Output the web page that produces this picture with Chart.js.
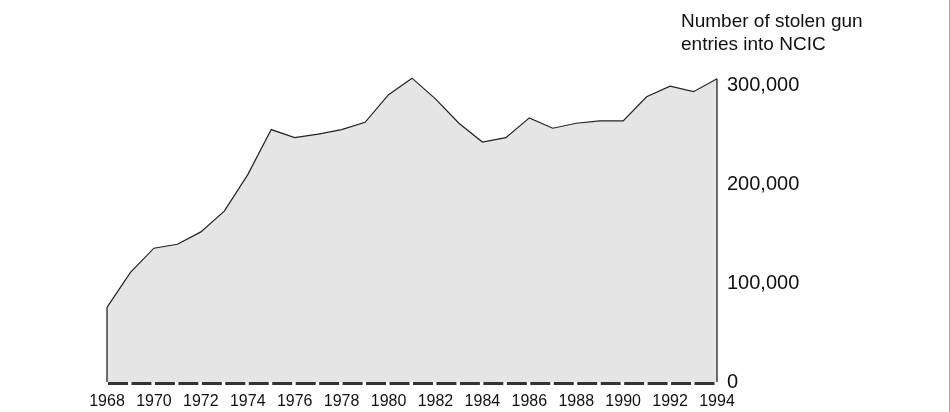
<!DOCTYPE html>
<html>
<head>
<meta charset="utf-8">
<script src="https://cdn.jsdelivr.net/npm/chart.js@4/dist/chart.umd.min.js"></script>
<style>
  html, body { margin: 0; padding: 0; background: #fff; }
  #wrap { width: 949px; height: 412px; border-right: 1px solid #a8a8a8; }
  canvas { display: block; }
</style>
</head>
<body>
<div id="wrap"><canvas id="c" width="949" height="412"></canvas></div>
<script>
// Stolen gun entries into NCIC, 1968-1994
const YEARS = ["1968", "1969", "1970", "1971", "1972", "1973", "1974", "1975", "1976", "1977", "1978", "1979", "1980", "1981",
  "1982", "1983", "1984", "1985", "1986", "1987", "1988", "1989", "1990", "1991", "1992", "1993", "1994"];
const ENTRIES = [75600, 111000, 135500, 139500, 152000, 173000, 210000, 255600, 247500, 251000, 255600, 263000, 291000, 307700,
  286700, 262000, 243000, 247500, 267500, 257000, 262000, 264400, 264400, 288800, 299600, 294000, 307000];
const Y_TICKS = [0, 100000, 200000, 300000];
const AXIS_TITLE = ["Number of stolen gun", "entries into NCIC"];

const FONT = "'Liberation Sans', Arial, Helvetica, sans-serif";
const INK = "#111";

// closes the shaded area at both ends, draws the dashed baseline (one dash per year)
// and writes the stacked axis title
const decor = {
  id: "decor",
  afterDatasetsDraw(chart) {
    const { ctx } = chart;
    const x = chart.scales.x;
    const pts = chart.getDatasetMeta(0).data;
    const base = chart.scales.y.getPixelForValue(0);
    ctx.save();
    ctx.strokeStyle = "#222";
    ctx.lineWidth = 1.3;
    for (const p of [pts[0], pts[pts.length - 1]]) {
      ctx.beginPath();
      ctx.moveTo(p.x, p.y);
      ctx.lineTo(p.x, base);
      ctx.stroke();
    }
    const step = x.getPixelForValue(1) - x.getPixelForValue(0);
    ctx.strokeStyle = "#333";
    ctx.lineWidth = 3;
    ctx.setLineDash([step - 3.5, 3.5]);
    ctx.beginPath();
    ctx.moveTo(x.getPixelForValue(0) + 1, base + 1.5);
    ctx.lineTo(x.getPixelForValue(YEARS.length - 1) - 2, base + 1.5);
    ctx.stroke();
    ctx.setLineDash([]);
    ctx.fillStyle = INK;
    ctx.font = `19px ${FONT}`;
    ctx.textBaseline = "middle";
    ctx.textAlign = "left";
    AXIS_TITLE.forEach((t, i) => ctx.fillText(t, 681, 22 + i * 23));
    ctx.restore();
  },
};

new Chart(document.getElementById("c"), {
  type: "line",
  data: {
    labels: YEARS,
    datasets: [{
      data: ENTRIES,
      borderColor: "#222",
      borderWidth: 1.2,
      backgroundColor: "#e5e5e5",
      fill: "origin",
      pointRadius: 0,
      tension: 0,
    }],
  },
  options: {
    responsive: false,
    animation: false,
    devicePixelRatio: 1,
    layout: { padding: { left: 107, top: 66, right: 0, bottom: 0 } },
    plugins: { legend: { display: false }, tooltip: { enabled: false } },
    scales: {
      x: {
        offset: false,
        grid: { display: false, drawTicks: false },
        border: { display: false },
        ticks: {
          autoSkip: false, maxRotation: 0, padding: 10, color: INK,
          font: { family: FONT, size: 16 },
          callback: (v, i) => (i % 2 === 0 ? YEARS[i] : ""),
        },
        afterFit: (s) => { s.height = 30; },
      },
      y: {
        position: "right",
        min: 0, max: 320000,
        grid: { display: false, drawTicks: false },
        border: { display: false },
        afterBuildTicks: (s) => { s.ticks = Y_TICKS.map((value) => ({ value })); },
        ticks: {
          padding: 10, color: INK,
          font: { family: FONT, size: 20 },
          callback: (v) => Number(v).toLocaleString("en-US"),
        },
        afterFit: (s) => { s.width = 232; },
      },
    },
  },
  plugins: [decor],
});
</script>
</body>
</html>
